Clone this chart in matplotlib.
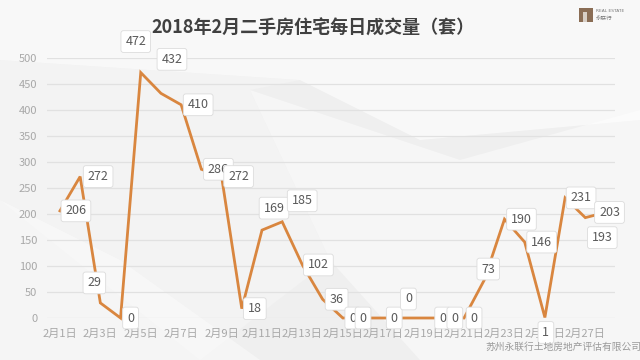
import matplotlib
matplotlib.use("Agg")
import matplotlib.pyplot as plt
from matplotlib.patches import Polygon, Rectangle

plt.rcParams['font.family'] = ['Noto Sans CJK SC', 'DejaVu Sans']

title = "2018年2月二手房住宅每日成交量（套）"
days = list(range(1, 29))
day_labels = [f"2月{d}日" for d in days]
values = [206, 272, 29, 0, 472, 432, 410, 286, 272, 18, 169, 185, 102, 36,
          0, 0, 0, 0, 0, 0, 0, 73, 190, 146, 1, 231, 193, 203]
yticks = [0, 50, 100, 150, 200, 250, 300, 350, 400, 450, 500]
footer = "苏州永联行土地房地产评估有限公司"

# label offsets in pixels (style)
offsets = [(16, 0), (18, 0), (-6, 20), (10, 0), (-5, 31), (11, 34), (17, 0),
           (17, 0), (17, 0), (13, 0), (12, 22), (20, 21), (16, 0), (14, 0),
           (10, 0), (0, 0), (11, 0), (5, 19), (19, 0), (11, 0), (10, 0),
           (4, 11), (17, 0), (17, 0), (1, -15), (16, 0), (17, -20), (4, 0)]

W, H = 640, 360
fig = plt.figure(figsize=(W / 100, H / 100), dpi=100)
fig.patch.set_facecolor('#efefef')

# background decoration
bg = fig.add_axes([0, 0, 1, 1], zorder=-10)
bg.set_xlim(0, W); bg.set_ylim(H, 0); bg.axis('off')
bg.add_patch(Polygon([(0, 0), (640, 0), (640, 120), (420, 140), (300, 80), (0, 60)],
                     closed=True, fc='white', ec='none', alpha=0.6))
bg.add_patch(Polygon([(250, 90), (460, 160), (640, 110), (640, 360), (420, 360), (330, 260)],
                     closed=True, fc='white', ec='none', alpha=0.45))
bg.add_patch(Polygon([(0, 360), (0, 200), (120, 260), (260, 360)],
                     closed=True, fc='white', ec='none', alpha=0.4))
bg.add_patch(Polygon([(0, 60), (300, 80), (250, 90), (330, 260), (200, 360), (0, 200)],
                     closed=True, fc='white', ec='none', alpha=0.25))

# logo
bg.add_patch(Rectangle((579, 8), 14, 14, fc='#8a6d55', ec='none'))
bg.add_patch(Rectangle((583, 12), 4, 10, fc='#d8cfc6', ec='none'))
bg.text(596, 11, "REAL ESTATE", fontsize=3.2, color='#7a7a7a', va='center', family='DejaVu Sans')
bg.text(596, 19, "永联行", fontsize=4, color='#7a7a7a', va='center')

ax_left, ax_right = 47, 615
ax_bottom, ax_top = 318, 58
ax = fig.add_axes([ax_left / W, (H - ax_bottom) / H, (ax_right - ax_left) / W,
                   (ax_bottom - ax_top) / H])
ax.set_facecolor('none')
ax.set_xlim(0.36, 28.47)
ax.set_ylim(0, 500)
for s in ax.spines.values():
    s.set_visible(False)
ax.set_yticks(yticks)
ax.yaxis.grid(True, color='#e1e1e1', lw=0.9)
ax.set_axisbelow(True)
ax.tick_params(length=0, labelsize=8, colors='#a8a8a8')
ax.tick_params(axis='y', pad=7)
ax.tick_params(axis='x', pad=8)
ax.set_xticks(days[::2])
ax.set_xticklabels(day_labels[::2])

ax.plot(days, values, color='#d9863f', lw=2.0, clip_on=False, zorder=3,
        solid_joinstyle='miter')

for d, v, (dx, dy) in zip(days, values, offsets):
    ax.annotate(str(v), (d, v), xytext=(dx, dy), textcoords='offset pixels',
                ha='center', va='center', fontsize=9, color='#5a5a5a',
                zorder=5, annotation_clip=False,
                bbox=dict(boxstyle='round,pad=0.35,rounding_size=0.2',
                          fc='white', ec='#dcdcdc', lw=0.6))

fig.text(313 / W, 1 - 28 / H, title, ha='center', va='center', fontsize=13,
         fontweight='bold', color='#404040')
fig.text(563 / W, 1 - 347 / H, footer, ha='center', va='center', fontsize=7,
         color='#9a9a9a')

fig.savefig('out.png', dpi=100, facecolor=fig.get_facecolor())
